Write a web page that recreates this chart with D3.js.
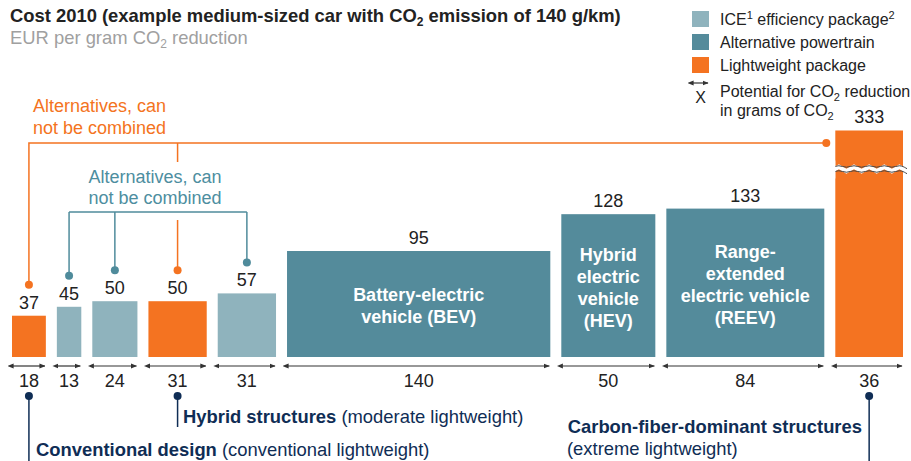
<!DOCTYPE html>
<html>
<head>
<meta charset="utf-8">
<script src="https://cdn.jsdelivr.net/npm/d3@7"></script>
<style>
  body { margin: 0; background: #fff; }
  svg { font-family: "Liberation Sans", Arial, sans-serif; }
</style>
</head>
<body>
<svg id="chart" width="911" height="461"></svg>
<script>
// values
const costs = [37, 45, 50, 50, 57, 95, 128, 133, 333];
const potentials = [18, 13, 24, 31, 31, 140, 50, 84, 36];
const types = ["light", "ice", "ice", "light", "ice", "alt", "alt", "alt", "light"];
const innerLabels = [
  [], [], [], [], [],
  ["Battery-electric", "vehicle (BEV)"],
  ["Hybrid", "electric", "vehicle", "(HEV)"],
  ["Range-", "extended", "electric vehicle", "(REEV)"],
  []
];
const legendItems = [
  { key: "ice", text: ["ICE", "1", " efficiency package", "2"] },
  { key: "alt", text: ["Alternative powertrain"] },
  { key: "light", text: ["Lightweight package"] }
];
const breakValue = 203; // bar 333 is drawn cut off

const colors = { ice: "#8fb3bd", alt: "#548b9b", light: "#f47321" };
const navy = "#0f2d55", tealText = "#4d8e9f", dark = "#222";

const svg = d3.select("#chart");

const GAP = 11, X0 = 12;
const total = d3.sum(potentials);
const x = d3.scaleLinear().domain([0, total]).range([0, 803]);
const y = d3.scaleLinear().domain([0, 95]).range([357, 251]);

let cum = 0;
const bars = costs.map((c, i) => {
  const x0 = X0 + x(cum) + i * GAP;
  cum += potentials[i];
  const x1 = X0 + x(cum) + i * GAP;
  const shown = Math.min(c, breakValue);
  return { i, c, p: potentials[i], type: types[i], x0, x1, cx: (x0 + x1) / 2, top: y(shown) };
});

// title
const title = svg.append("text").attr("x", 10).attr("y", 22)
  .attr("font-size", 18.4).attr("font-weight", "bold").attr("fill", dark);
title.append("tspan").text("Cost 2010 (example medium-sized car with CO");
title.append("tspan").text("2").attr("font-size", 12).attr("dy", 4);
title.append("tspan").text(" emission of 140 g/km)").attr("dy", -4);

const sub = svg.append("text").attr("x", 10).attr("y", 44)
  .attr("font-size", 18.4).attr("fill", "#a0a0a0");
sub.append("tspan").text("EUR per gram CO");
sub.append("tspan").text("2").attr("font-size", 12).attr("dy", 4);
sub.append("tspan").text(" reduction").attr("dy", -4);

// legend
const lg = svg.append("g");
legendItems.forEach((d, k) => {
  const ly = 11 + k * 23;
  lg.append("rect").attr("x", 692).attr("y", ly).attr("width", 17).attr("height", 16)
    .attr("fill", colors[d.key]);
  const t = lg.append("text").attr("x", 720).attr("y", ly + 14)
    .attr("font-size", 16).attr("fill", dark);
  d.text.forEach((s, j) => {
    const sp = t.append("tspan").text(s);
    if (j % 2 === 1) sp.attr("font-size", 11).attr("dy", -6);
    else if (j > 0) sp.attr("dy", 6);
  });
});

// arrowhead marker
const defs = svg.append("defs");
["start", "end"].forEach(k => {
  defs.append("marker").attr("id", "arr-" + k)
    .attr("viewBox", "0 0 10 10").attr("refX", k === "end" ? 9 : 1).attr("refY", 5)
    .attr("markerWidth", 6).attr("markerHeight", 6).attr("orient", "auto-start-reverse")
    .attr("markerUnits", "userSpaceOnUse")
    .append("path").attr("d", "M0,1 L10,5 L0,9 Z").attr("fill", "#333");
});

lg.append("line").attr("x1", 693).attr("x2", 708).attr("y1", 83).attr("y2", 83)
  .attr("stroke", "#333").attr("stroke-width", 1.2)
  .attr("marker-start", "url(#arr-start)").attr("marker-end", "url(#arr-end)");
lg.append("text").attr("x", 700.5).attr("y", 103).attr("text-anchor", "middle")
  .attr("font-size", 16).attr("fill", dark).text("X");
const lt1 = lg.append("text").attr("x", 720).attr("y", 97).attr("font-size", 16).attr("fill", dark);
lt1.append("tspan").text("Potential for CO");
lt1.append("tspan").text("2").attr("font-size", 11).attr("dy", 4);
lt1.append("tspan").text(" reduction").attr("dy", -4);
const lt2 = lg.append("text").attr("x", 720).attr("y", 116).attr("font-size", 16).attr("fill", dark);
lt2.append("tspan").text("in grams of CO");
lt2.append("tspan").text("2").attr("font-size", 11).attr("dy", 4);

// bars
svg.append("g").selectAll("rect").data(bars).join("rect")
  .attr("x", d => d.x0).attr("y", d => d.top)
  .attr("width", d => d.x1 - d.x0).attr("height", d => y(0) - d.top)
  .attr("fill", d => colors[d.type]);

// break mark on the cut bar
bars.filter(d => d.c > breakValue).forEach(d => {
  const by = d.top + 36;
  const wave = d3.line().curve(d3.curveBasis);
  const pts = off => d3.range(0, 11).map(k => [d.x0 - 4 + k * (d.x1 - d.x0 + 8) / 10, by + off + (k % 2 ? -2.2 : 2.2)]);
  const band = pts(0).concat(pts(5).reverse());
  svg.append("path").attr("d", d3.line().curve(d3.curveLinearClosed)(band)).attr("fill", "#fff");
  svg.append("path").attr("d", wave(pts(0))).attr("fill", "none").attr("stroke", "#444").attr("stroke-width", 1);
  svg.append("path").attr("d", wave(pts(5))).attr("fill", "none").attr("stroke", "#444").attr("stroke-width", 1);
  svg.append("rect").attr("x", d.x0 - 5).attr("y", by - 6).attr("width", 5).attr("height", 18).attr("fill", "#fff");
});

// value labels
svg.append("g").selectAll("text").data(bars).join("text")
  .attr("x", d => d.cx).attr("y", d => d.top - 7)
  .attr("text-anchor", "middle").attr("font-size", 18).attr("fill", dark)
  .text(d => d.c);

// inner labels
bars.forEach(d => {
  const lines = innerLabels[d.i];
  if (!lines.length) return;
  const midY = (d.top + y(0)) / 2 + 2;
  lines.forEach((s, k) => {
    svg.append("text").attr("x", d.cx).attr("y", midY + (k - (lines.length - 1) / 2) * 22 + 6)
      .attr("text-anchor", "middle").attr("font-size", 18).attr("font-weight", "bold")
      .attr("fill", "#fff").text(s);
  });
});

// width arrows and labels
svg.append("g").selectAll("line").data(bars).join("line")
  .attr("x1", d => d.x0 + 1).attr("x2", d => d.x1 - 1).attr("y1", 366).attr("y2", 366)
  .attr("stroke", "#333").attr("stroke-width", 1.2)
  .attr("marker-start", "url(#arr-start)").attr("marker-end", "url(#arr-end)");
svg.append("g").selectAll("text").data(bars).join("text")
  .attr("x", d => d.cx).attr("y", 387)
  .attr("text-anchor", "middle").attr("font-size", 18).attr("fill", dark)
  .text(d => d.p);

// "alternatives" brackets
const dotY = d => d.top - 31;
const orange = colors.light, teal = "#4f8b9b";
const ob = svg.append("g").attr("stroke", orange).attr("stroke-width", 1.5).attr("fill", "none");
const oy = 143;
const oRight = bars[8].x0 - 9;
ob.append("path").attr("d", `M${bars[0].cx},${dotY(bars[0])} V${oy} H${oRight}`);
ob.append("line").attr("x1", bars[3].cx).attr("x2", bars[3].cx).attr("y1", oy).attr("y2", 162);
ob.append("line").attr("x1", bars[3].cx).attr("x2", bars[3].cx).attr("y1", 220).attr("y2", dotY(bars[3]));
[[bars[0].cx, dotY(bars[0])], [bars[3].cx, dotY(bars[3])], [oRight, oy]].forEach(p =>
  svg.append("circle").attr("cx", p[0]).attr("cy", p[1]).attr("r", 4).attr("fill", orange));

svg.append("text").attr("x", 33).attr("y", 112).attr("font-size", 18).attr("fill", orange)
  .text("Alternatives, can");
svg.append("text").attr("x", 33).attr("y", 134).attr("font-size", 18).attr("fill", orange)
  .text("not be combined");

const tb = svg.append("g").attr("stroke", teal).attr("stroke-width", 1.5).attr("fill", "none");
const ty = 212;
const tBars = [bars[1], bars[2], bars[4]];
tb.append("line").attr("x1", tBars[0].cx).attr("x2", tBars[2].cx).attr("y1", ty).attr("y2", ty);
tBars.forEach(d => {
  tb.append("line").attr("x1", d.cx).attr("x2", d.cx).attr("y1", ty).attr("y2", dotY(d));
  svg.append("circle").attr("cx", d.cx).attr("cy", dotY(d)).attr("r", 4).attr("fill", teal);
});
svg.append("text").attr("x", 155).attr("y", 183).attr("text-anchor", "middle")
  .attr("font-size", 18).attr("fill", tealText).text("Alternatives, can");
svg.append("text").attr("x", 155).attr("y", 204).attr("text-anchor", "middle")
  .attr("font-size", 18).attr("fill", tealText).text("not be combined");

// lightweight design callouts below
const callouts = [
  { bar: 0, end: 461, lines: [{ x: 36, y: 456, anchor: "start", bold: "Conventional design", rest: " (conventional lightweight)" }] },
  { bar: 3, end: 427, lines: [{ x: 183, y: 423, anchor: "start", bold: "Hybrid structures", rest: " (moderate lightweight)" }] },
  { bar: 8, end: 461, lines: [
    { x: 862, y: 433, anchor: "end", bold: "Carbon-fiber-dominant structures", rest: "" },
    { x: 567, y: 455, anchor: "start", bold: "", rest: "(extreme lightweight)" }
  ] }
];
callouts.forEach(c => {
  const cx = bars[c.bar].cx;
  svg.append("line").attr("x1", cx).attr("x2", cx).attr("y1", 396).attr("y2", c.end)
    .attr("stroke", navy).attr("stroke-width", 1.5);
  svg.append("circle").attr("cx", cx).attr("cy", 396).attr("r", 4).attr("fill", navy);
  c.lines.forEach(l => {
    const t = svg.append("text").attr("x", l.x).attr("y", l.y).attr("text-anchor", l.anchor)
      .attr("font-size", 18.4).attr("fill", navy);
    if (l.bold) t.append("tspan").attr("font-weight", "bold").text(l.bold);
    if (l.rest) t.append("tspan").text(l.rest);
  });
});
</script>
</body>
</html>
